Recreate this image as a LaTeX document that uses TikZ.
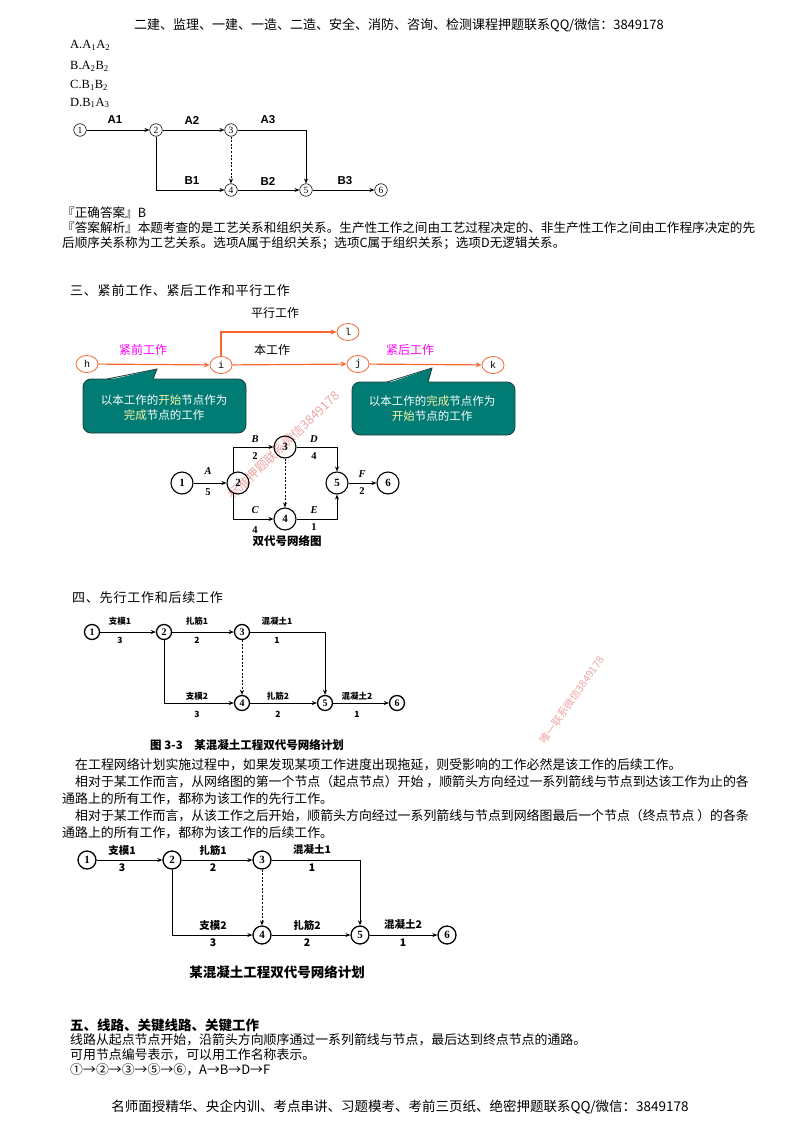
\documentclass[tikz,border=0pt]{standalone}
\usepackage{fontspec}
\usepackage{graphicx}
\setmainfont{Liberation Serif}
\newfontfamily\cjk{Noto Sans CJK SC}
\newfontfamily\cjksp[LetterSpace=6]{Noto Sans CJK SC}
\newfontfamily\lsans{Liberation Sans}
\newfontfamily\lmono{Liberation Mono}
\usetikzlibrary{arrows.meta,shapes.geometric}
\definecolor{myorange}{RGB}{247,104,48}
\definecolor{myteal}{RGB}{0,124,116}
\definecolor{tealedge}{RGB}{30,60,60}
\definecolor{mymag}{RGB}{255,0,255}
\definecolor{wmred}{RGB}{238,165,165}
\definecolor{keyyel}{RGB}{250,245,170}
\begin{document}
\begin{tikzpicture}[x=1pt,y=-1pt,
  every node/.style={inner sep=0pt},
  body/.style={anchor=west, font=\cjk\fontsize{12.6}{15}\selectfont},
  para/.style={anchor=west, font=\cjk\fontsize{12.9}{15}\selectfont},
  sect/.style={anchor=west, font=\cjksp\fontsize{13}{15}\selectfont},
  sectb/.style={anchor=west, font=\cjk\bfseries\fontsize{13.5}{15}\selectfont},
  hdr/.style={font=\cjk\fontsize{13}{15}\selectfont},
  opt/.style={anchor=west, font=\fontsize{12.5}{14}\selectfont},
  arr/.style={-{Stealth[length=5,width=4]}, line width=0.7},
  dsh/.style={arr, dash pattern=on 2pt off 1.6pt},
  tc/.style={circle, draw, line width=0.6, minimum size=12.5, font=\fontsize{9.5}{9.5}\selectfont},
  tl/.style={font=\lsans\bfseries\fontsize{11.5}{12}\selectfont},
  oc/.style={ellipse, draw=myorange, line width=0.8, minimum width=22, minimum height=17, font=\lmono\fontsize{10}{10}\selectfont},
  oarr/.style={draw=myorange, line width=1.2, -{Stealth[length=6,width=5]}},
  olab/.style={font=\cjk\fontsize{12}{13}\selectfont},
  cbox/.style={fill=myteal, draw=tealedge, line width=0.8, rounded corners=8},
  btxt/.style={font=\cjk\fontsize{11.5}{13}\selectfont, text=white},
  dc/.style={circle, draw, line width=1.1, minimum size=22, font=\bfseries\fontsize{11}{11}\selectfont},
  dl/.style={font=\bfseries\itshape\fontsize{10.5}{11}\selectfont},
  dn/.style={font=\bfseries\fontsize{10.5}{11}\selectfont},
  sc/.style={circle, draw, line width=1.3, minimum size=15, font=\bfseries\fontsize{10}{10}\selectfont},
  sl/.style={font=\cjk\bfseries\fontsize{8.5}{9}\selectfont},
  bc/.style={circle, draw, line width=1.3, minimum size=18, font=\bfseries\fontsize{11}{11}\selectfont},
  bl/.style={font=\cjk\bfseries\fontsize{10.5}{11}\selectfont},
  capt/.style={font=\cjk\bfseries\fontsize{11.5}{12}\selectfont},
  wmk/.style={font=\cjk\fontsize{12.5}{13}\selectfont, text=wmred}
]
\fill[white] (0,0) rectangle (800,1132);
\useasboundingbox (0,0) rectangle (800,1132);

% watermarks
\node[wmk, rotate=44] (w1) at (284,445) {标准押题联系微信3849178};
\node[wmk, rotate=55, font=\cjk\fontsize{10.5}{11}\selectfont] (w2) at (572,700) {唯一联系微信3849178};

% header
\node[hdr] (hd) at (399,25) {二建、监理、一建、一造、二造、安全、消防、咨询、检测课程押题联系QQ/微信：3849178};

% options
\node[opt] (oA) at (70,45) {A.A\textsubscript{1}A\textsubscript{2}};
\node[opt] (oB) at (70,66) {B.A\textsubscript{2}B\textsubscript{2}};
\node[opt] (oC) at (70,85) {C.B\textsubscript{1}B\textsubscript{2}};
\node[opt] (oD) at (70,103) {D.B\textsubscript{1}A\textsubscript{3}};

% top network
\node[tc] (a1) at (80,130) {1};
\node[tc] (a2) at (156,130) {2};
\node[tc] (a3) at (231,130) {3};
\node[tc] (a4) at (231,190) {4};
\node[tc] (a5) at (306,190) {5};
\node[tc] (a6) at (381,190) {6};
\draw[arr] (a1) -- (a2);
\draw[arr] (a2) -- (a3);
\draw[arr] (a3) -| (a5);
\draw[arr] (a2) |- (a4);
\draw[dsh] (a3) -- (a4);
\draw[arr] (a4) -- (a5);
\draw[arr] (a5) -- (a6);
\node[tl] (lA1) at (115,120) {A1};
\node[tl] (lA2) at (192,120) {A2};
\node[tl] (lA3) at (268,120) {A3};
\node[tl] (lB1) at (192,181) {B1};
\node[tl] (lB2) at (268,181) {B2};
\node[tl] (lB3) at (345,181) {B3};

% answer
\node[body] (t1) at (62,213) {『正确答案』B};
\node[body] (t2) at (62,228) {『答案解析』本题考查的是工艺关系和组织关系。生产性工作之间由工艺过程决定的、非生产性工作之间由工作程序决定的先};
\node[body] (t3) at (62,243) {后顺序关系称为工艺关系。选项A属于组织关系；选项C属于组织关系；选项D无逻辑关系。};

% section 3
\node[sect] (s3) at (70,291) {三、紧前工作、紧后工作和平行工作};
\draw[cbox] (83,379) rectangle (246,433);
\fill[myteal] (107,380.5) -- (157,369) -- (153,380.5) -- cycle;
\draw[tealedge, line width=0.8] (107,379) -- (157,369) -- (153,379);
\draw[cbox] (352,382) rectangle (515,435);
\fill[myteal] (387,383.5) -- (432,368) -- (428,383.5) -- cycle;
\draw[tealedge, line width=0.8] (387,382) -- (432,368) -- (428,382);
\node[btxt] (bx1) at (164,400) {以本工作的\textcolor{keyyel}{开始}节点作为};
\node[btxt] (bx2) at (164,415) {\textcolor{keyyel}{完成}节点的工作};
\node[btxt] (bx3) at (432,401) {以本工作的\textcolor{keyyel}{完成}节点作为};
\node[btxt] (bx4) at (432,416) {\textcolor{keyyel}{开始}节点的工作};
\node[oc] (h) at (87,364) {h};
\node[oc] (i) at (221,365) {i};
\node[oc] (j) at (358,364) {j};
\node[oc] (k) at (493,365) {k};
\node[oc] (l) at (348,332) {l};
\draw[oarr] (h) -- (i);
\draw[oarr] (i) -- (j);
\draw[oarr] (j) -- (k);
\draw[oarr] (i.north) |- (l);
\node[olab] (pl) at (275,313) {平行工作};
\node[olab, text=mymag] (jq) at (143,350) {紧前工作};
\node[olab] (bg) at (272,350) {本工作};
\node[olab, text=mymag] (jh) at (410,350) {紧后工作};

% double code network
\node[dc] (d1) at (182,483) {1};
\node[dc] (d2) at (238,483) {2};
\node[dc] (d3) at (285,447) {3};
\node[dc] (d4) at (285,519) {4};
\node[dc] (d5) at (337,483) {5};
\node[dc] (d6) at (388,483) {6};
\draw[arr, line width=0.9] (d1) -- (d2);
\draw[arr, line width=0.9] (d2.115) |- (d3);
\draw[arr, line width=0.9] (d3) -| (d5);
\draw[arr, line width=0.9] (d2.245) |- (d4);
\draw[arr, line width=0.9] (d4) -| (d5);
\draw[arr, line width=0.9] (d5) -- (d6);
\draw[dsh, line width=0.9] (d3) -- (d4);
\node[dl] (dA) at (208,471) {A};
\node[dn] (dA5) at (208,492) {5};
\node[dl] (dB) at (255,439) {B};
\node[dn] (dB2) at (255,456) {2};
\node[dl] (dD) at (314,439) {D};
\node[dn] (dD4) at (314,456) {4};
\node[dl] (dC) at (255,510) {C};
\node[dn] (dC4) at (255,530) {4};
\node[dl] (dE) at (314,510) {E};
\node[dn] (dE1) at (314,527) {1};
\node[dl] (dF) at (362,474) {F};
\node[dn] (dF2) at (362,491) {2};
\node[capt] (dcap) at (287,541) {双代号网络图};

% section 4
\node[sect] (s4) at (72,598) {四、先行工作和后续工作};
\node[sc] (m1) at (92,632) {1};
\node[sc] (m2) at (164,632) {2};
\node[sc] (m3) at (242,632) {3};
\node[sc] (m4) at (242,703) {4};
\node[sc] (m5) at (325,703) {5};
\node[sc] (m6) at (397,703) {6};
\draw[arr, line width=1] (m1) -- (m2);
\draw[arr, line width=1] (m2) -- (m3);
\draw[arr, line width=1] (m3) -| (m5);
\draw[arr, line width=1] (m2) |- (m4);
\draw[dsh, line width=0.8] (m3) -- (m4);
\draw[arr, line width=1] (m4) -- (m5);
\draw[arr, line width=1] (m5) -- (m6);
\node[sl] (ml1) at (120,621) {支模1};
\node[sl] (mn1) at (120,640) {3};
\node[sl] (ml2) at (197,621) {扎筋1};
\node[sl] (mn2) at (197,640) {2};
\node[sl] (ml3) at (277,621) {混凝土1};
\node[sl] (mn3) at (277,640) {1};
\node[sl] (ml4) at (197,696) {支模2};
\node[sl] (mn4) at (197,714) {3};
\node[sl] (ml5) at (278,696) {扎筋2};
\node[sl] (mn5) at (278,714) {2};
\node[sl] (ml6) at (357,696) {混凝土2};
\node[sl] (mn6) at (357,714) {1};
\node[capt] (mcap) at (247,745) {图 3-3\quad 某混凝土工程双代号网络计划};

% paragraphs
\node[para] (p1) at (75,765) {在工程网络计划实施过程中，如果发现某项工作进度出现拖延，则受影响的工作必然是该工作的后续工作。};
\node[para] (p2) at (75,782) {相对于某工作而言，从网络图的第一个节点（起点节点）开始 ，顺箭头方向经过一系列箭线与节点到达该工作为止的各};
\node[para] (p3) at (62,799) {通路上的所有工作，都称为该工作的先行工作。};
\node[para] (p4) at (75,816) {相对于某工作而言，从该工作之后开始，顺箭头方向经过一系列箭线与节点到网络图最后一个节点（终点节点 ）的各条};
\node[para] (p5) at (62,833) {通路上的所有工作，都称为该工作的后续工作。};

% bottom network
\node[bc] (q1) at (87,860) {1};
\node[bc] (q2) at (172,860) {2};
\node[bc] (q3) at (262,860) {3};
\node[bc] (q4) at (262,935) {4};
\node[bc] (q5) at (360,935) {5};
\node[bc] (q6) at (447,935) {6};
\draw[arr, line width=1] (q1) -- (q2);
\draw[arr, line width=1] (q2) -- (q3);
\draw[arr, line width=0.9] (q3) -| (q5);
\draw[arr, line width=1] (q2) |- (q4);
\draw[dsh, line width=0.8] (q3) -- (q4);
\draw[arr, line width=1] (q4) -- (q5);
\draw[arr, line width=1] (q5) -- (q6);
\node[bl] (ql1) at (122,850) {支模1};
\node[bl] (qn1) at (122,868) {3};
\node[bl] (ql2) at (213,850) {扎筋1};
\node[bl] (qn2) at (213,868) {2};
\node[bl] (ql3) at (312,850) {混凝土1};
\node[bl] (qn3) at (312,868) {1};
\node[bl] (ql4) at (213,925) {支模2};
\node[bl] (qn4) at (213,943) {3};
\node[bl] (ql5) at (307,925) {扎筋2};
\node[bl] (qn5) at (307,943) {2};
\node[bl] (ql6) at (403,925) {混凝土2};
\node[bl] (qn6) at (403,943) {1};
\node[capt, font=\cjk\bfseries\fontsize{13.5}{14}\selectfont] (qcap) at (277,972) {某混凝土工程双代号网络计划};

% section 5
\node[sectb] (s5) at (70,1025) {五、线路、关键线路、关键工作};
\node[para] (r1) at (70,1040) {线路从起点节点开始，沿箭头方向顺序通过一系列箭线与节点，最后达到终点节点的通路。};
\node[para] (r2) at (70,1055) {可用节点编号表示，可以用工作名称表示。};
\node[para] (r3) at (70,1070) {①→②→③→⑤→⑥，A→B→D→F};

% footer
\node[hdr, font=\cjk\fontsize{13.5}{15}\selectfont] (ft) at (400,1107) {名师面授精华、央企内训、考点串讲、习题模考、考前三页纸、绝密押题联系QQ/微信：3849178};
\end{tikzpicture}
\end{document}
